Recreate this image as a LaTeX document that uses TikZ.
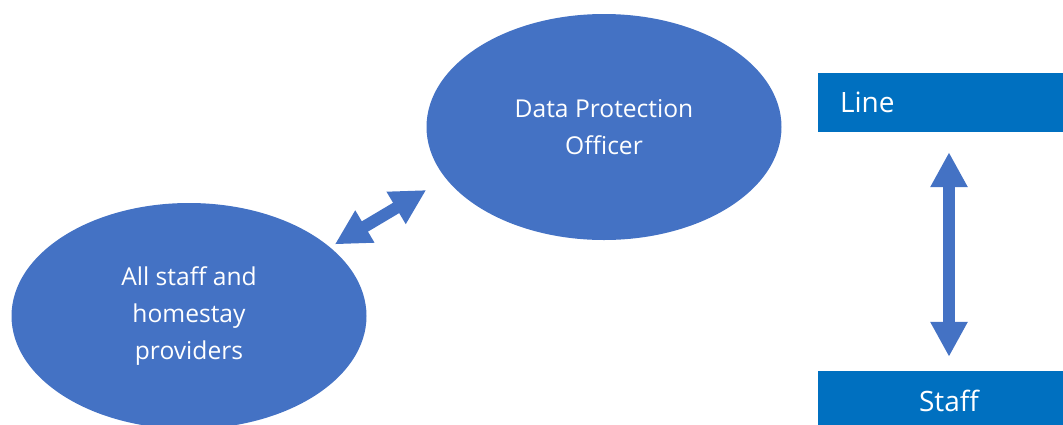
\documentclass[tikz,border=0pt]{standalone}
\usepackage{fontspec}
\setmainfont{Open Sans}
\usepackage{tikz}
\usetikzlibrary{arrows.meta,shapes.geometric}
\definecolor{ovalblue}{HTML}{4472C4}
\definecolor{barblue}{HTML}{0070C0}
\tikzset{
  roleoval/.style={ellipse,fill=ovalblue,text=white,align=center,inner sep=0pt,
    minimum width=355pt,minimum height=226pt,font=\fontsize{24.6}{37.3}\selectfont},
  rolebar/.style={rectangle,fill=barblue,text=white,inner xsep=22pt,inner ysep=0pt,
    minimum width=262pt,minimum height=59pt,text width=218pt,
    font=\fontsize{28}{34}\selectfont},
  linkarr/.style={{Triangle[width=35pt,length=35pt]}-{Triangle[width=35pt,length=35pt]},
    line width=12pt,color=ovalblue},
}
\begin{document}
\begin{tikzpicture}[x=1pt,y=-1pt]
  \useasboundingbox (0,0) rectangle (1063,424);
  \node[roleoval] (dpo) at (604,127) {Data Protection\\Officer};
  \node[roleoval] (all) at (189,316) {All staff and\\homestay\\providers};
  \node[rolebar,align=left] (line) at (949,102.5) {Line};
  \node[rolebar,align=center] (staff) at (949,400.5) {Staff};
  \draw[linkarr,shorten <=5.5pt,shorten >=22.7pt] (all.26) -- (dpo.198);
  \draw[linkarr,shorten <=20pt,shorten >=14pt] (line.south) -- (staff.north);
\end{tikzpicture}
\end{document}
